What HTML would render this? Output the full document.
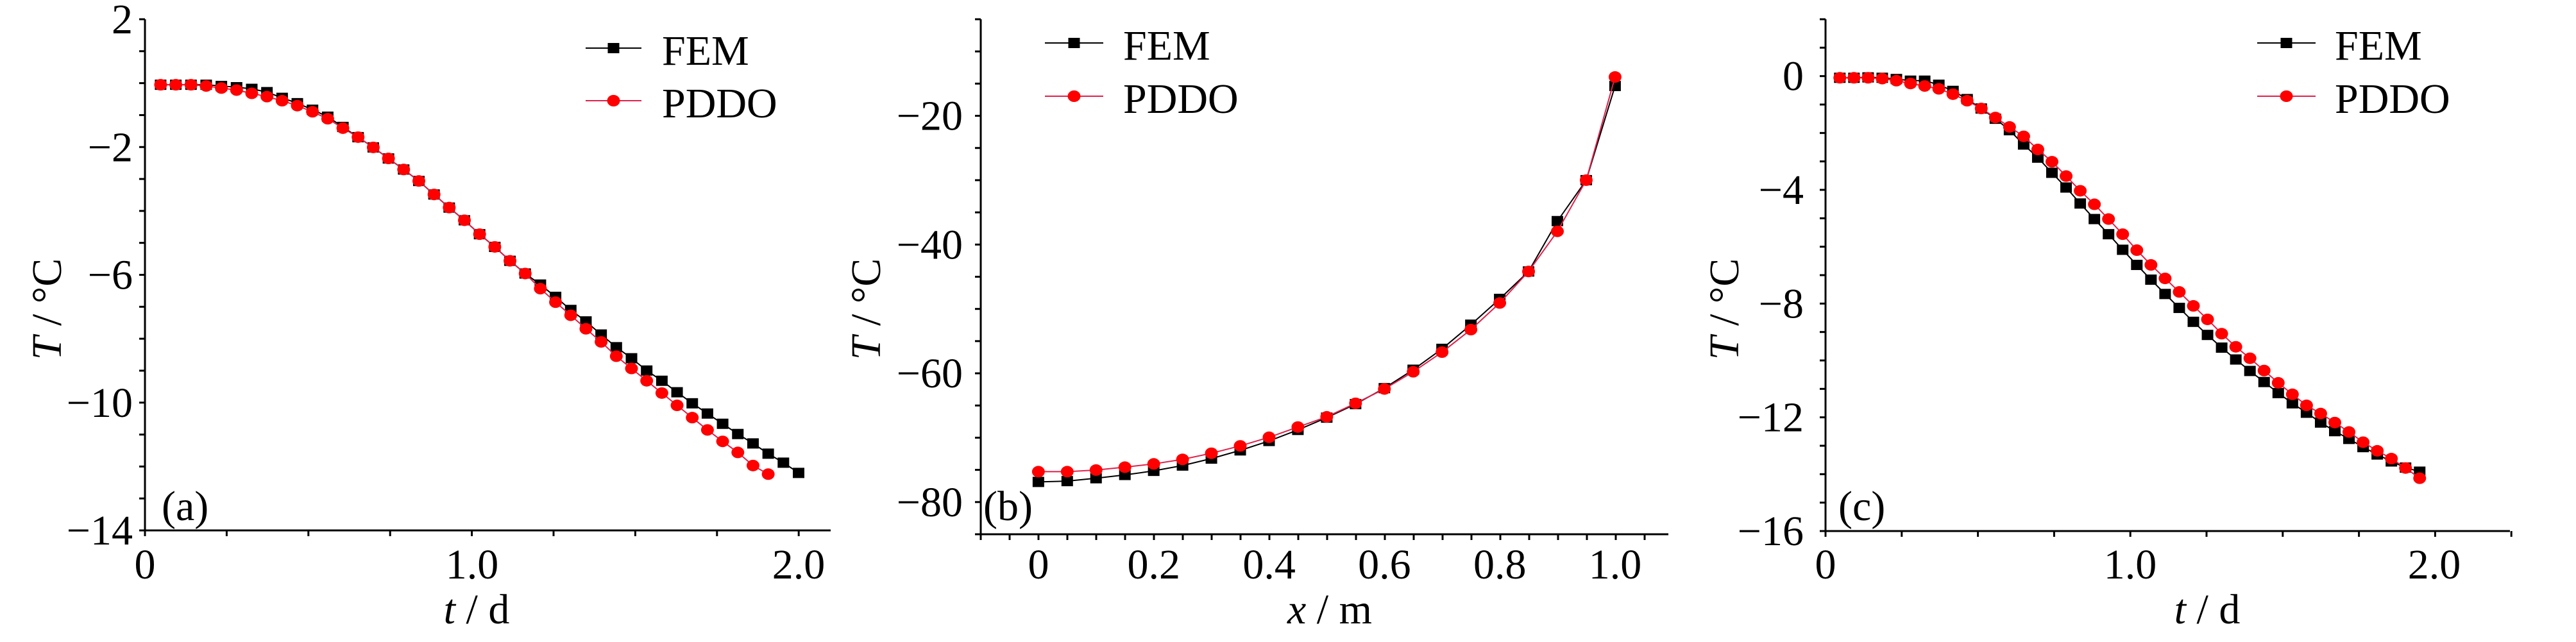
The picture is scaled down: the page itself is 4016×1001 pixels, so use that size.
<!DOCTYPE html>
<html><head><meta charset="utf-8"><style>html,body{margin:0;padding:0;background:#fff}svg{display:block}text{font-family:"Liberation Serif",serif;fill:#000}</style></head>
<body>
<svg id="s" width="4016" height="1001" viewBox="0 0 4016 1001" xmlns="http://www.w3.org/2000/svg"></svg>
<script>
const S=document.getElementById('s');let h='';
const SX=0.8546,SY=0.6384;
function L(x1,y1,x2,y2,c,w){h+=`<line x1="${x1}" y1="${y1}" x2="${x2}" y2="${y2}" stroke="${c}" stroke-width="${w}"/>`;}
function T(x,y,t,a,extra){h+=`<text x="${x}" y="${y}" font-size="66" text-anchor="${a||'start'}" ${extra||''}>${t}</text>`;}
function sq(x,y){h+=`<rect x="${x-9}" y="${y-8}" width="18" height="16" fill="#000"/>`;}
function ci(x,y){h+=`<ellipse cx="${x}" cy="${y}" rx="10" ry="9" fill="#f00"/>`;}
function series(off,xs,ys,col,mk){let p=xs.map((x,i)=>[off+x*SX,ys[i]*SY]);
 h+=`<polyline fill="none" stroke="${col}" stroke-width="2" points="${p.map(q=>q.join(',')).join(' ')}"/>`;
 p.forEach(q=>mk(q[0],q[1]));}
function legend(x1,x2,y1,y2,tx){L(x1,y1,x2,y1,'#000',2);sq((x1+x2)/2,y1);T(tx,y1+26,'FEM');
 L(x1,y2,x2,y2,'#e0204a',2);ci((x1+x2)/2,y2);T(tx,y2+26,'PDDO');}
function axes(ax,top,bot,right,yt,xt){L(ax,top,ax,bot+1,'#000',3);L(ax-1,bot,right,bot,'#000',3);
 yt.forEach(y=>L(ax-9,y,ax,y,'#000',3));xt.forEach(x=>L(x,bot,x,bot+9,'#000',3));}
// Panel a
(function(){const ax=226,top=30,bot=827;let yt=[];for(let i=0;i<=16;i++)yt.push(top+i*(bot-top)/16);
 let xt=[];for(let i=0;i<=8;i++)xt.push(ax+i*127.4);axes(ax,top,bot,1295,yt,xt);
 [['2',0],['−2',4],['−6',8],['−10',12],['−14',16]].forEach(([t,i])=>T(207,top+i*(bot-top)/16+22,t,'end'));
 [['0',226],['1.0',736],['2.0',1245]].forEach(([t,x])=>T(x,902,t,'middle'));
 h+=`<text x="743" y="972" font-size="66" text-anchor="middle"><tspan font-style="italic">t</tspan> / d</text>`;
 h+=`<text transform="translate(95,482) rotate(-90)" font-size="66" text-anchor="middle"><tspan font-style="italic">T</tspan> / °C</text>`;
 T(252,811,'(a)');
 const xs=[];for(let i=0;i<43;i++)xs.push(293+i*27.71);
 const fy=[207,207,207,207,210,213,217,225,239,252,268,285,310,335,360,387,414,442,475,507,538,572,603,637,668,695,725,757,785,817,848,875,905,930,958,985,1010,1035,1060,1083,1108,1130,1155];
 const py=[207,207,207,210,215,220,228,236,246,258,273,290,313,335,360,387,414,442,475,507,538,572,603,637,668,705,738,770,803,835,870,900,930,960,990,1020,1050,1078,1105,1137,1158];
 series(0,xs,fy,'#000',sq);series(0,xs.slice(0,41),py,'#e0204a',ci);
 legend(913,1000,75,157,1032);})();
// Panel b
(function(){const off=1330,ax=1529,top=30,bot=833;let yt=[];for(let v=-5;v>=-85;v-=5)yt.push(top+(-5-v)/80*(bot-top));
 let xt=[];for(let i=0;i<=23;i++)xt.push(ax+i*45);axes(ax,top,bot,2601,yt,xt);
 [-20,-40,-60,-80].forEach(v=>T(1501,top+(-5-v)/80*(bot-top)+22,'−'+(-v),'end'));
 ['0','0.2','0.4','0.6','0.8','1.0'].forEach((t,i)=>T(1619+i*179.8,902,t,'middle'));
 h+=`<text x="2073" y="972" font-size="66" text-anchor="middle"><tspan font-style="italic">x</tspan> / m</text>`;
 h+=`<text transform="translate(1372,482) rotate(-90)" font-size="66" text-anchor="middle"><tspan font-style="italic">T</tspan> / °C</text>`;
 T(1533,811,'(b)');
 const xs=[];for(let i=0;i<21;i++)xs.push(338+i*52.6);
 const fy=[1177,1175,1168,1160,1150,1137,1120,1100,1077,1050,1020,987,948,903,852,793,730,663,540,440,210];
 const py=[1152,1152,1148,1141,1133,1122,1107,1089,1068,1043,1018,985,950,908,860,805,740,663,565,440,188];
 series(off,xs,fy,'#000',sq);series(off,xs,py,'#e0204a',ci);
 legend(1629,1720,67,150,1751);})();
// Panel c
(function(){const off=2676,ax=2846,top=30,bot=828;let yt=[];for(let i=0;i<=18;i++)yt.push(top+i*(bot-top)/18);
 let xt=[];for(let i=0;i<=9;i++)xt.push(ax+i*118.8);axes(ax,top,bot,3913,yt,xt);
 [['0',2],['−4',6],['−8',10],['−12',14],['−16',18]].forEach(([t,i])=>T(2812,top+i*(bot-top)/18+22,t,'end'));
 [['0',2846],['1.0',3321],['2.0',3795]].forEach(([t,x])=>T(x,902,t,'middle'));
 h+=`<text x="3441" y="972" font-size="66" text-anchor="middle"><tspan font-style="italic">t</tspan> / d</text>`;
 h+=`<text transform="translate(2710,482) rotate(-90)" font-size="66" text-anchor="middle"><tspan font-style="italic">T</tspan> / °C</text>`;
 T(2866,811,'(c)');
 const xs=[];for(let i=0;i<42;i++)xs.push(225+i*25.8);
 const fy=[190,190,189,190,193,197,197,207,222,242,265,290,318,353,385,422,458,497,535,572,610,647,683,718,752,786,818,849,878,906,933,960,985,1008,1032,1053,1072,1092,1110,1127,1142,1152];
 const py=[190,190,190,192,197,204,210,217,230,246,265,287,310,333,365,395,430,466,499,535,572,611,647,680,713,747,780,815,847,875,905,935,963,990,1010,1032,1055,1080,1101,1120,1143,1168];
 series(off,xs,fy,'#000',sq);series(off,xs,py,'#e0204a',ci);
 legend(3519,3610,67,150,3640);})();
S.innerHTML=h;
</script>
</body></html>
